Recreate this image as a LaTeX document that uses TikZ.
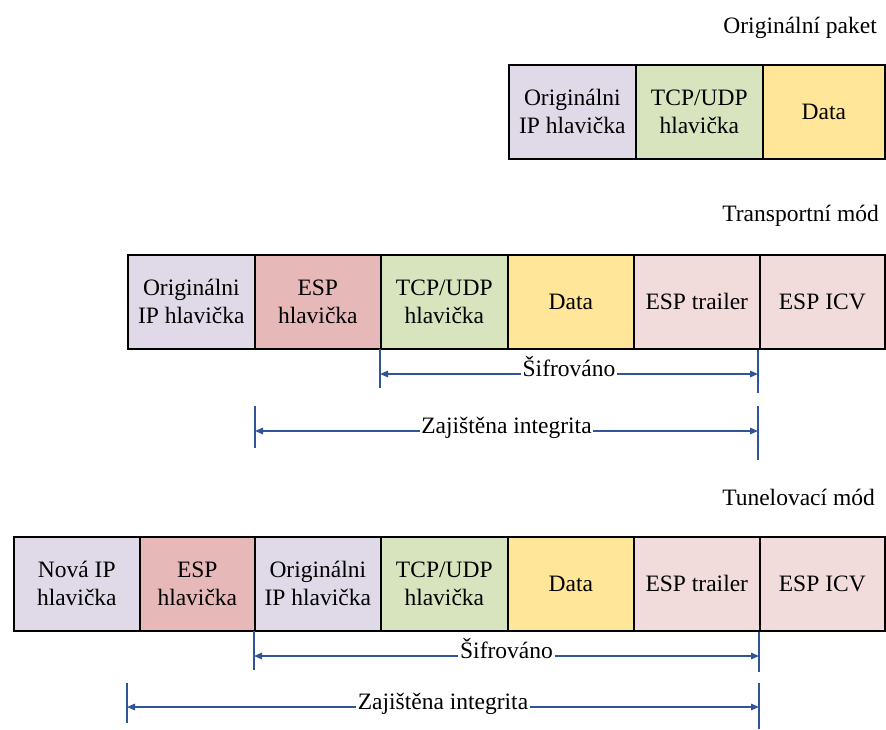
\documentclass[tikz,border=0pt]{standalone}
\usepackage{fontspec}
\setmainfont{Liberation Serif}
\newfontfamily\labelserif{Liberation Serif}
\usetikzlibrary{arrows.meta}

\definecolor{ipcol}{HTML}{DFD9E8}
\definecolor{tcpcol}{HTML}{D7E4BD}
\definecolor{datacol}{HTML}{FFE699}
\definecolor{esphcol}{HTML}{E6B9B8}
\definecolor{esptcol}{HTML}{F2DCDB}
\definecolor{spanblue}{HTML}{2F5597}

\newcommand{\txtfont}{\labelserif\fontsize{23.5}{28}\selectfont}

\tikzset{
  cell/.style={draw=black, line width=1.6pt, anchor=north west,
    minimum height=94pt, align=center, inner sep=0pt, font=\txtfont},
  spanarrow/.style={draw=spanblue, line width=1.5pt,
    -{Triangle[length=8pt,width=6.5pt]}},
  tickline/.style={draw=spanblue, line width=1.5pt},
  spanlabel/.style={anchor=mid, inner sep=1.5pt, font=\txtfont},
  heading/.style={anchor=east, inner sep=0pt, font=\txtfont}
}

\begin{document}
\begin{tikzpicture}[x=1pt,y=-1pt]
\useasboundingbox (0,0) rectangle (886,729);

% ---------- original packet ----------
\node[heading] (hOrig) at (877,28) {Originální paket};
\node[cell, fill=ipcol,   minimum width=127pt] (o1) at (508,64) {Originálni\\IP hlavička};
\node[cell, fill=tcpcol,  minimum width=127pt] (o2) at (635,64) {TCP/UDP\\hlavička};
\node[cell, fill=datacol, minimum width=122pt] (o3) at (762,64) {Data};

% ---------- transport mode ----------
\node[heading] (hTrans) at (879,216) {Transportní mód};
\node[cell, fill=ipcol,   minimum width=127pt] (a1) at (127,254) {Originálni\\IP hlavička};
\node[cell, fill=esphcol, minimum width=126pt] (a2) at (254,254) {ESP\\hlavička};
\node[cell, fill=tcpcol,  minimum width=127pt] (a3) at (380,254) {TCP/UDP\\hlavička};
\node[cell, fill=datacol, minimum width=126pt] (a4) at (507,254) {Data};
\node[cell, fill=esptcol, minimum width=126pt] (a5) at (633,254) {ESP trailer};
\node[cell, fill=esptcol, minimum width=125pt] (a6) at (759,254) {ESP ICV};

% encrypted span
\coordinate (aS1t) at (380,349); \coordinate (aS1b) at (380,388);
\coordinate (aS2t) at (758,350); \coordinate (aS2b) at (758,393);
\draw[tickline] (aS1t) -- (aS1b);
\draw[tickline] (aS2t) -- (aS2b);
\node[spanlabel] (aSif) at (569,374) {Šifrováno};
\draw[spanarrow] (aSif.mid west) -- (aSif.mid west -| aS1t);
\draw[spanarrow] (aSif.mid east) -- (aSif.mid east -| aS2t);

% integrity span
\coordinate (aZ1t) at (255,406); \coordinate (aZ1b) at (255,448);
\coordinate (aZ2t) at (758,406); \coordinate (aZ2b) at (758,460);
\draw[tickline] (aZ1t) -- (aZ1b);
\draw[tickline] (aZ2t) -- (aZ2b);
\node[spanlabel] (aZaj) at (506.5,431) {Zajištěna integrita};
\draw[spanarrow] (aZaj.mid west) -- (aZaj.mid west -| aZ1t);
\draw[spanarrow] (aZaj.mid east) -- (aZaj.mid east -| aZ2t);

% ---------- tunnel mode ----------
\node[heading] (hTun) at (875,497) {Tunelovací mód};
\node[cell, fill=ipcol,   minimum width=126pt] (b1) at (13,536)  {Nová IP\\hlavička};
\node[cell, fill=esphcol, minimum width=115pt] (b2) at (139,536) {ESP\\hlavička};
\node[cell, fill=ipcol,   minimum width=126pt] (b3) at (254,536) {Originálni\\IP hlavička};
\node[cell, fill=tcpcol,  minimum width=127pt] (b4) at (380,536) {TCP/UDP\\hlavička};
\node[cell, fill=datacol, minimum width=126pt] (b5) at (507,536) {Data};
\node[cell, fill=esptcol, minimum width=126pt] (b6) at (633,536) {ESP trailer};
\node[cell, fill=esptcol, minimum width=125pt] (b7) at (759,536) {ESP ICV};

% encrypted span
\coordinate (bS1t) at (254,631); \coordinate (bS1b) at (254,670);
\coordinate (bS2t) at (759,632); \coordinate (bS2b) at (759,672);
\draw[tickline] (bS1t) -- (bS1b);
\draw[tickline] (bS2t) -- (bS2b);
\node[spanlabel] (bSif) at (506.5,656) {Šifrováno};
\draw[spanarrow] (bSif.mid west) -- (bSif.mid west -| bS1t);
\draw[spanarrow] (bSif.mid east) -- (bSif.mid east -| bS2t);

% integrity span
\coordinate (bZ1t) at (127,683); \coordinate (bZ1b) at (127,723);
\coordinate (bZ2t) at (759,683); \coordinate (bZ2b) at (759,729);
\draw[tickline] (bZ1t) -- (bZ1b);
\draw[tickline] (bZ2t) -- (bZ2b);
\node[spanlabel] (bZaj) at (443,707) {Zajištěna integrita};
\draw[spanarrow] (bZaj.mid west) -- (bZaj.mid west -| bZ1t);
\draw[spanarrow] (bZaj.mid east) -- (bZaj.mid east -| bZ2t);
\end{tikzpicture}
\end{document}
